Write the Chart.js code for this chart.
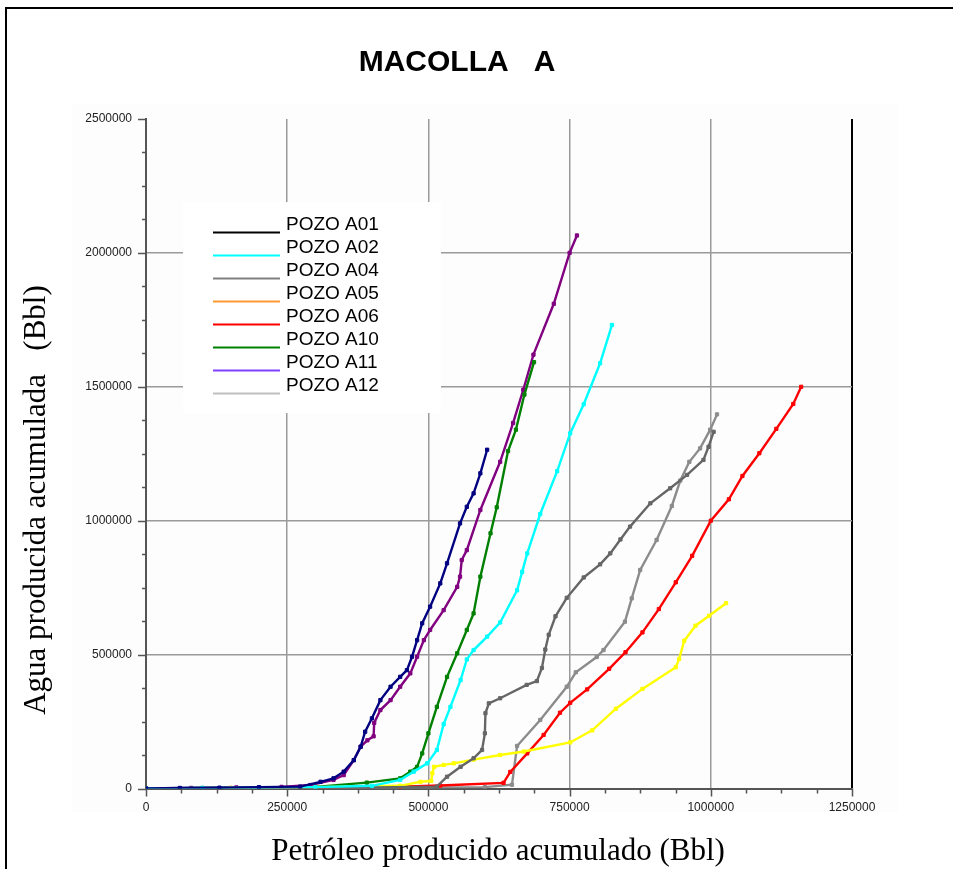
<!DOCTYPE html>
<html lang="es">
<head>
<meta charset="utf-8">
<title>Macolla A</title>
<script src="https://cdn.jsdelivr.net/npm/chart.js@4.4.1/dist/chart.umd.min.js"></script>
<style>
  html, body { margin: 0; padding: 0; background: #fff; }
  #wrap { width: 953px; height: 869px; }
</style>
</head>
<body>
<div id="wrap"><canvas id="chart" width="953" height="869"></canvas></div>
<script>
// ---- Curvas de producción acumulada por pozo (Bbl) ----
const pozoNames = ['POZO A01', 'POZO A02', 'POZO A04', 'POZO A05', 'POZO A06', 'POZO A10', 'POZO A11', 'POZO A12'];

const a01X = [0, 60000, 130000, 200000, 273000, 309000, 332000, 350000, 368000, 380000, 388000, 400000, 415000, 433000, 450000, 462000, 471000, 480000, 489000, 503000, 521000, 533000, 556000, 568000, 580000, 592000, 604000];
const a01Y = [0, 2000, 3000, 5000, 7000, 25000, 38000, 63000, 106000, 156000, 212000, 262000, 330000, 380000, 417000, 442000, 492000, 554000, 617000, 679000, 766000, 841000, 990000, 1052000, 1102000, 1177000, 1265000];

const a02X = [0, 100000, 200000, 300000, 400000, 450000, 474000, 498000, 515000, 527000, 539000, 557000, 568000, 580000, 604000, 627000, 657000, 666000, 675000, 698000, 728000, 751000, 775000, 804000, 825000];
const a02Y = [0, 2000, 3000, 5000, 10000, 32000, 63000, 94000, 144000, 240000, 305000, 405000, 482000, 517000, 567000, 620000, 740000, 809000, 878000, 1025000, 1185000, 1326000, 1435000, 1588000, 1731000];

const a04X = [0, 100000, 200000, 300000, 400000, 515000, 533000, 557000, 580000, 595000, 600000, 601000, 607000, 627000, 674000, 692000, 701000, 707000, 713000, 725000, 745000, 775000, 804000, 822000, 840000, 857000, 893000, 928000, 958000, 987000, 996000, 1005000];
const a04Y = [0, 1000, 2000, 3000, 4000, 7000, 44000, 81000, 113000, 144000, 206000, 281000, 318000, 337000, 387000, 401000, 450000, 519000, 574000, 643000, 712000, 788000, 837000, 878000, 930000, 978000, 1065000, 1121000, 1171000, 1227000, 1276000, 1332000];

const a05X = [0, 150000, 300000, 450000, 486000, 505000, 507000, 510000, 527000, 545000, 580000, 627000, 669000, 751000, 790000, 832000, 879000, 938000, 944000, 953000, 973000, 997000, 1027000];
const a05Y = [0, 2000, 5000, 10000, 25000, 28000, 57000, 81000, 88000, 94000, 108000, 125000, 138000, 172000, 217000, 298000, 372000, 453000, 484000, 552000, 608000, 645000, 692000];

const a06X = [0, 150000, 300000, 450000, 521000, 633000, 645000, 675000, 704000, 733000, 751000, 781000, 820000, 849000, 879000, 908000, 938000, 967000, 1000000, 1032000, 1056000, 1086000, 1116000, 1146000, 1160000];
const a06Y = [0, 2000, 4000, 7000, 11000, 21000, 62000, 131000, 200000, 283000, 320000, 370000, 447000, 509000, 583000, 670000, 770000, 869000, 1000000, 1080000, 1167000, 1252000, 1343000, 1436000, 1500000];

const a10X = [0, 100000, 200000, 300000, 391000, 450000, 468000, 480000, 489000, 500000, 515000, 533000, 551000, 568000, 580000, 592000, 610000, 621000, 641000, 655000, 670000, 687000];
const a10Y = [0, 2000, 3000, 6000, 22000, 38000, 63000, 81000, 131000, 206000, 305000, 417000, 505000, 592000, 654000, 791000, 953000, 1050000, 1260000, 1340000, 1471000, 1592000];

const a11X = [0, 80000, 160000, 240000, 291000, 332000, 350000, 368000, 380000, 392000, 403000, 404000, 415000, 433000, 450000, 468000, 480000, 492000, 503000, 527000, 551000, 556000, 559000, 568000, 592000, 627000, 650000, 668000, 686000, 722000, 750000, 763000];
const a11Y = [0, 2000, 4000, 6000, 13000, 32000, 50000, 106000, 156000, 180000, 195000, 245000, 293000, 330000, 380000, 430000, 492000, 554000, 592000, 666000, 753000, 791000, 853000, 890000, 1040000, 1220000, 1365000, 1489000, 1620000, 1810000, 2000000, 2065000];

const a12X = [0, 150000, 300000, 450000, 600000, 648000, 657000, 698000, 745000, 761000, 798000, 810000, 848000, 860000, 875000, 904000, 931000, 946000, 962000, 981000, 999000, 1011000];
const a12Y = [0, 1000, 2000, 3000, 5000, 14000, 159000, 256000, 380000, 434000, 491000, 517000, 623000, 710000, 816000, 928000, 1055000, 1150000, 1220000, 1270000, 1340000, 1397000];

// ejes
const xMax = 1250000, xMinorStep = 62500, xMajorStep = 250000;
const yMax = 2500000, yMinorStep = 125000, yMajorStep = 500000;

// colores de las curvas y de la leyenda (la leyenda usa su propia paleta)
const seriesColors = ['#000080', '#00ffff', '#666666', '#ffff00', '#ff0000', '#008000', '#800080', '#8c8c8c'];
const legendColors = ['#000000', '#00ffff', '#808080', '#ff9933', '#ff0000', '#008000', '#8040ff', '#c0c0c0'];

const seriesX = [a01X, a02X, a04X, a05X, a06X, a10X, a11X, a12X];
const seriesY = [a01Y, a02Y, a04Y, a05Y, a06Y, a10Y, a11Y, a12Y];

const toPoints = (xs, ys) => xs.map((x, i) => ({ x: x, y: ys[i] }));

const datasets = pozoNames.map((name, i) => ({
  label: name,
  data: toPoints(seriesX[i], seriesY[i]),
  showLine: true,
  borderColor: seriesColors[i],
  backgroundColor: seriesColors[i],
  borderWidth: 2.4,
  pointStyle: 'rect',
  pointRadius: 2.3,
  pointBorderWidth: 1,
  pointBorderColor: seriesColors[i],
  pointBackgroundColor: seriesColors[i],
  tension: 0,
}));

const isMajor = (v, step) => Math.abs(v / step - Math.round(v / step)) < 1e-6;

// ---- Decoración: marco, leyenda, marcas de eje y títulos ----
const decor = {
  id: 'decor',
  beforeDraw(chart) {
    const { ctx } = chart;
    ctx.save();
    ctx.fillStyle = '#ffffff';
    ctx.fillRect(0, 0, chart.width, chart.height);
    ctx.fillStyle = '#fdfdfd';
    ctx.fillRect(72, 104, 826, 708);
    // marco exterior
    ctx.strokeStyle = '#000';
    ctx.lineWidth = 2;
    ctx.beginPath();
    ctx.moveTo(6, chart.height);
    ctx.lineTo(6, 8);
    ctx.lineTo(chart.width, 8);
    ctx.stroke();
    ctx.restore();
  },
  beforeDatasetsDraw(chart) {
    const { ctx, scales } = chart;
    const xs = scales.x, ys = scales.y;
    ctx.save();

    // marcas de los ejes
    ctx.strokeStyle = '#555';
    ctx.lineWidth = 1.5;
    ctx.beginPath();
    for (let v = 0; v <= yMax; v += yMinorStep) {
      const py = Math.round(ys.getPixelForValue(v)) + 0.5;
      const len = isMajor(v, yMajorStep) ? 8 : 4;
      ctx.moveTo(xs.left - len, py);
      ctx.lineTo(xs.left, py);
    }
    for (let v = 0; v <= xMax; v += xMinorStep) {
      const px = Math.round(xs.getPixelForValue(v)) + 0.5;
      const len = isMajor(v, xMajorStep) ? 8 : 5;
      ctx.moveTo(px, ys.bottom);
      ctx.lineTo(px, ys.bottom + len);
    }
    ctx.stroke();

    // cuadro de leyenda
    ctx.fillStyle = '#ffffff';
    ctx.fillRect(183, 202, 258, 211);
    ctx.font = '19px "Liberation Sans", Arial, sans-serif';
    ctx.textAlign = 'left';
    ctx.textBaseline = 'alphabetic';
    pozoNames.forEach((name, i) => {
      const y = 232.5 + i * 23;
      ctx.strokeStyle = legendColors[i];
      ctx.lineWidth = 2;
      ctx.beginPath();
      ctx.moveTo(213, y);
      ctx.lineTo(280, y);
      ctx.stroke();
      ctx.fillStyle = '#000';
      ctx.fillText(name, 286, y - 2.5);
    });
    ctx.restore();
  },
  afterDraw(chart) {
    const { ctx } = chart;
    ctx.save();
    ctx.fillStyle = '#000';
    ctx.textAlign = 'center';
    ctx.textBaseline = 'alphabetic';

    ctx.font = 'bold 30px "Liberation Sans", Arial, sans-serif';
    ctx.fillText('MACOLLA   A', 457, 71);

    ctx.font = '31px "Liberation Serif", "Times New Roman", serif';
    ctx.fillText('Petróleo producido acumulado (Bbl)', 498, 860);

    ctx.translate(45, 500);
    ctx.rotate(-Math.PI / 2);
    ctx.fillText('Agua producida acumulada   (Bbl)', 0, 0);
    ctx.restore();
  }
};

const tickFont = { family: '"Liberation Sans", Arial, sans-serif', size: 12 };

new Chart(document.getElementById('chart'), {
  type: 'scatter',
  data: { datasets: datasets },
  plugins: [decor],
  options: {
    responsive: false,
    animation: false,
    layout: { padding: { top: 119, right: 101, bottom: 0, left: 0 } },
    plugins: {
      legend: { display: false },
      tooltip: { enabled: false },
    },
    scales: {
      x: {
        type: 'linear',
        min: 0,
        max: xMax,
        afterFit: (scale) => { scale.height = 80.5; },
        ticks: {
          stepSize: xMinorStep,
          autoSkip: false,
          maxRotation: 0,
          padding: 12,
          color: '#222',
          font: tickFont,
          callback: (v) => (isMajor(v, xMajorStep) ? String(v) : ''),
        },
        grid: {
          drawTicks: false,
          color: (c) => {
            const v = c.tick ? c.tick.value : 0;
            if (v >= xMax) return '#000';
            return v > 0 && isMajor(v, xMajorStep) ? '#9a9a9a' : 'transparent';
          },
          lineWidth: (c) => (c.tick && c.tick.value >= xMax ? 2 : 1.5),
        },
        border: { display: true, color: '#555', width: 2 },
      },
      y: {
        type: 'linear',
        min: 0,
        max: yMax,
        afterFit: (scale) => { scale.width = 146; },
        ticks: {
          stepSize: yMinorStep,
          autoSkip: false,
          padding: 14,
          color: '#222',
          font: tickFont,
          callback: (v) => (isMajor(v, yMajorStep) ? String(v) : ''),
        },
        grid: {
          drawTicks: false,
          color: (c) => {
            const v = c.tick ? c.tick.value : 0;
            return v > 0 && v < yMax && isMajor(v, yMajorStep) ? '#9a9a9a' : 'transparent';
          },
          lineWidth: 1.5,
        },
        border: { display: true, color: '#555', width: 2 },
      },
    },
  },
});
</script>
</body>
</html>
